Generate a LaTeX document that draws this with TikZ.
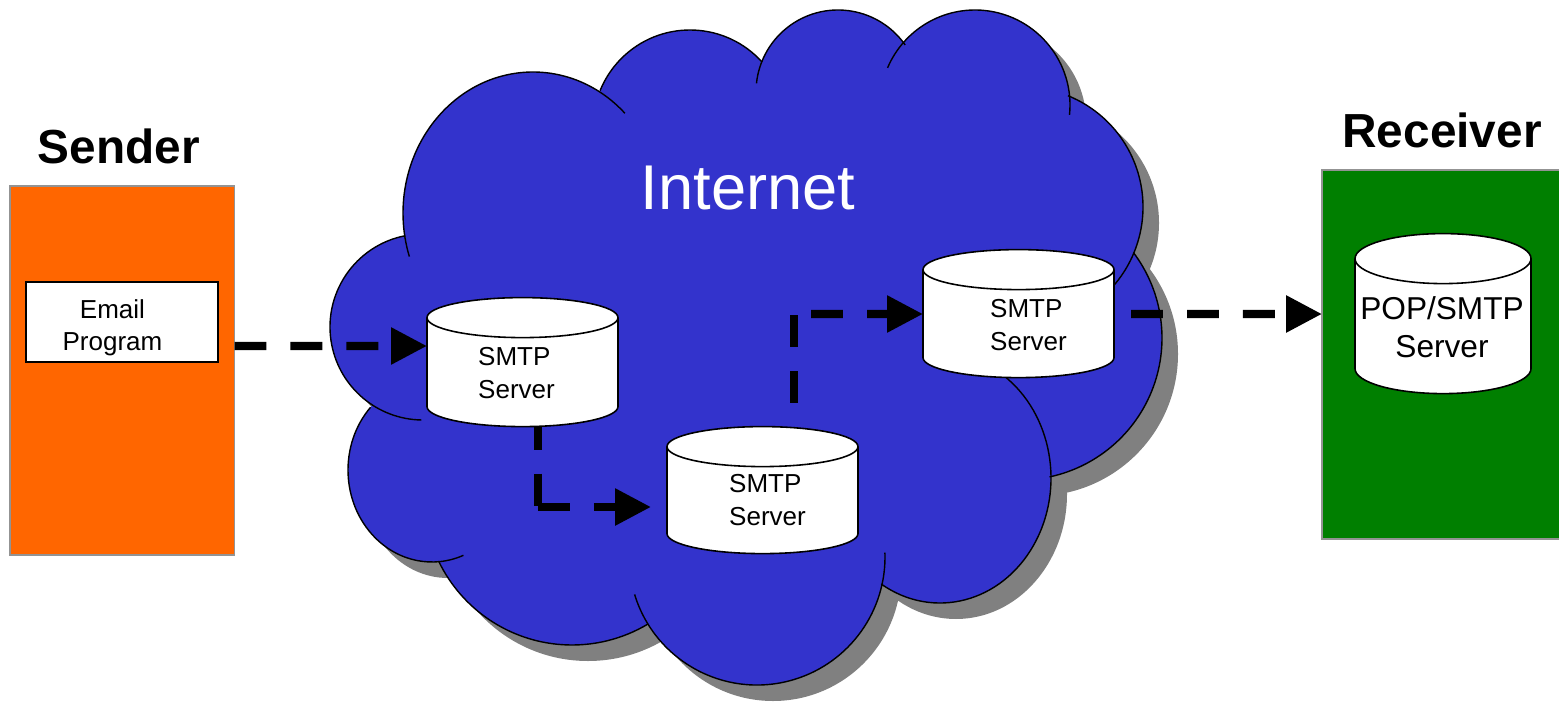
\documentclass[tikz,border=0pt]{standalone}
\usepackage{fontspec}
\setmainfont{Liberation Sans}
\usetikzlibrary{arrows.meta,calc,shapes.geometric}

\definecolor{cloudblue}{HTML}{3333CC}
\definecolor{cloudshade}{HTML}{808080}
\definecolor{senderorange}{HTML}{FF6600}
\definecolor{receivergreen}{HTML}{007F00}

\tikzset{
    hostbox/.style={draw=gray!85, line width=0.4pt, inner sep=0pt, outer sep=0pt},
    server/.style={cylinder, shape border rotate=90, aspect=1, draw=black, fill=white,
        line width=0.45pt, inner sep=0pt, outer sep=0pt},
    flow/.style={line width=2.28pt, dash pattern=on 9.1pt off 6.83pt},
    flowtip/.style={flow, -{Triangle[length=10.2pt,width=10pt]}},
    smalltext/.style={font=\fontsize{7.4}{9.15}\selectfont, inner sep=0pt},
    title/.style={font=\fontsize{13.6}{16}\selectfont\bfseries, anchor=base}
}

\begin{document}
\begin{tikzpicture}
    \useasboundingbox (0,0) rectangle (15.59,7.01);

    \def\lobes{4.23/3.74/0.93/0.93/101/269, 5.33/4.88/1.30/1.41/45/198,
        6.90/5.74/0.97/0.97/42/158, 8.38/6.09/0.82/0.82/35/174,
        9.75/5.96/0.95/0.95/-6/157, 10.23/4.94/1.20/1.20/-45/68,
        10.20/3.63/1.42/1.42/-78/37, 9.40/2.23/1.11/1.25/-122/55,
        7.57/1.44/1.28/1.28/197/362, 5.72/2.04/1.48/1.48/206/301,
        4.32/2.31/0.84/0.92/137/292}
    \def\cloudcore{(4.23,3.74) -- (5.33,4.88) -- (6.90,5.74) -- (8.38,6.09) -- (9.75,5.96) -- (10.23,4.94)
        -- (10.20,3.63) -- (9.40,2.23) -- (7.57,1.44) -- (5.72,2.04) -- (4.32,2.31) -- cycle}

    % shadow, then body, then the outline arcs
    \fill[cloudshade, shift={(0.16,-0.16)}] \cloudcore;
    \foreach \cx/\cy/\rx/\ry/\sa/\ea in \lobes
        \fill[cloudshade, shift={(0.16,-0.16)}] (\cx,\cy) ellipse [x radius=\rx, y radius=\ry];
    \fill[cloudblue] \cloudcore;
    \foreach \cx/\cy/\rx/\ry/\sa/\ea in \lobes
        \fill[cloudblue] (\cx,\cy) ellipse [x radius=\rx, y radius=\ry];
    \foreach \cx/\cy/\rx/\ry/\sa/\ea in \lobes
        \draw[line width=0.4pt] (\cx,\cy) ++(\sa:\rx cm and \ry cm)
            arc [start angle=\sa, end angle=\ea, x radius=\rx, y radius=\ry];

    \node[white, font=\fontsize{18}{20}\selectfont, anchor=base] (internet) at (7.48,4.92) {Internet};

    \node[hostbox, fill=senderorange, minimum width=2.245cm, minimum height=3.69cm] (sender) at (1.2225,3.305) {};
    \node[title] (sendertitle) at (1.19,5.37) {Sender};
    \node[draw=black, fill=white, line width=0.45pt, inner sep=0pt, outer sep=0pt,
        minimum width=1.92cm, minimum height=0.80cm] (emailbox) at (1.22,3.79) {};
    \node[smalltext, align=center] (emailtext) at (1.125,3.73) {Email\\Program};

    \node[hostbox, fill=receivergreen, minimum width=2.50cm, minimum height=3.69cm] (receiver) at (14.47,3.465) {};
    \node[title] (receivertitle) at (14.42,5.53) {Receiver};

    % text width sets the depth of the end curves
    \node[server, text width=0.40cm, minimum width=1.91cm, minimum height=1.29cm] (smtpa) at (5.225,3.285) {};
    \node[smalltext, align=left] (smtpatext) at (5.165,3.28) {SMTP\\Server};

    \node[server, text width=0.40cm, minimum width=1.91cm, minimum height=1.27cm] (smtpb) at (7.625,2.005) {};
    \node[smalltext, align=left] (smtpbtext) at (7.675,2.01) {SMTP\\Server};

    \node[server, text width=0.40cm, minimum width=1.91cm, minimum height=1.28cm] (smtpc) at (10.185,3.77) {};
    \node[smalltext, align=left] (smtpctext) at (10.285,3.76) {SMTP\\Server};

    \node[server, text width=0.50cm, minimum width=1.76cm, minimum height=1.60cm] (popsmtp) at (14.43,3.745) {};
    \node[font=\fontsize{9}{10.9}\selectfont, align=center, inner sep=0pt] (popsmtptext) at (14.42,3.74) {POP/SMTP\\Server};

    \coordinate (cornerab) at (5.38,1.94);
    \coordinate (tipb) at (6.51,1.94);
    \coordinate (cornerbc) at (7.94,3.86);
    \coordinate (startc) at (8.11,3.87);

    \draw[flowtip] ([yshift=0.245cm]sender.east) -- ([yshift=0.265cm]smtpa.west);
    \draw[flow, dash phase=2.56pt] (smtpa.south -| cornerab) -- (cornerab);
    \draw[flowtip] (cornerab) -- (tipb);
    \draw[flow, dash phase=9.1pt] (smtpb.north -| cornerbc) -- (cornerbc);
    \draw[flowtip] (startc) -- ([yshift=0.10cm]smtpc.west);
    \draw[flowtip, dash phase=11.1pt] ([yshift=0.10cm]smtpc.east) -- ([yshift=0.405cm]receiver.west);
\end{tikzpicture}
\end{document}
